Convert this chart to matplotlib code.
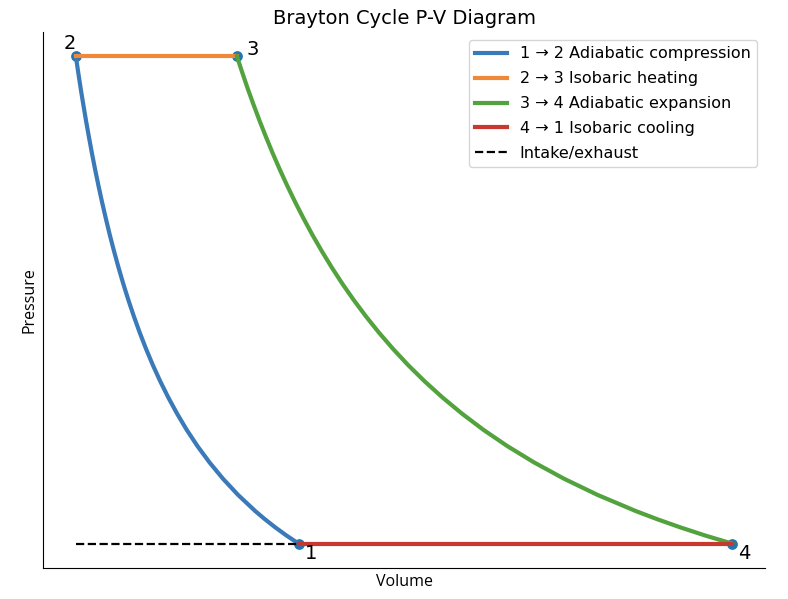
import numpy as np
from matplotlib import pyplot as plt

# state points (volume, pressure), arbitrary units
state_names = ["1", "2", "3", "4"]
state_v = [1.0, 0.3715, 0.826, 2.2234]
state_p = [1.0, 4.0, 4.0, 1.0]

# pressure samples shared by both adiabats
curve_p = [1.0, 1.05, 1.1, 1.15, 1.2, 1.3, 1.4, 1.5, 1.6, 1.7, 1.8, 1.9, 2.0,
           2.1, 2.2, 2.3, 2.4, 2.5, 2.6, 2.7, 2.8, 2.9, 3.0, 3.1, 3.2, 3.3,
           3.4, 3.5, 3.6, 3.7, 3.8, 3.9, 4.0]

# 1 -> 2 adiabatic compression, volumes
comp_v = [1.0, 0.9657, 0.9342, 0.9050, 0.8779, 0.8291, 0.7864, 0.7486, 0.7148,
          0.6845, 0.6572, 0.6323, 0.6095, 0.5886, 0.5694, 0.5516, 0.5351, 0.5197,
          0.5053, 0.4919, 0.4793, 0.4674, 0.4563, 0.4457, 0.4357, 0.4262, 0.4172,
          0.4087, 0.4005, 0.3928, 0.3853, 0.3783, 0.3715]

# 3 -> 4 adiabatic expansion
exp_v = [2.2234, 2.1471, 2.0771, 2.0122, 1.9519, 1.8434, 1.7485, 1.6644, 1.5893,
         1.5219, 1.4612, 1.4059, 1.3552, 1.3087, 1.2660, 1.2264, 1.1897, 1.1555,
         1.1235, 1.0937, 1.0657, 1.0392, 1.0145, 0.9910, 0.9687, 0.9476, 0.9276,
         0.9087, 0.8905, 0.8733, 0.8567, 0.8411, 0.8260]

label_offsets = [(9, -7), (-4, 9), (11, 5), (9, -7)]

fig = plt.figure(figsize=(7.88, 5.99), dpi=100)
ax = fig.add_axes([0.0546, 0.0518, 0.9162, 0.8948])

ax.scatter(state_v, state_p, s=45, color="C0", zorder=1)

ax.plot(comp_v, curve_p, color="#3a7ab8", lw=3, label="1 → 2 Adiabatic compression", zorder=2)
ax.plot([state_v[1], state_v[2]], [state_p[1], state_p[2]], color="#f0883a", lw=3,
        label="2 → 3 Isobaric heating", zorder=2)
ax.plot(exp_v, curve_p, color="#52a23e", lw=3, label="3 → 4 Adiabatic expansion", zorder=2)
ax.plot([state_v[3], state_v[0]], [state_p[3], state_p[0]], color="#c9382f", lw=3,
        label="4 → 1 Isobaric cooling", zorder=2)
ax.plot([state_v[1], state_v[0]], [state_p[0], state_p[0]], "k--", lw=1.6,
        label="Intake/exhaust", zorder=2)

for name, v, p, off in zip(state_names, state_v, state_p, label_offsets):
    ax.annotate(name, (v, p), xytext=off, textcoords="offset points",
                ha="center", va="center", fontsize=14)

ax.set_xticks([])
ax.set_yticks([])
ax.spines["top"].set_visible(False)
ax.spines["right"].set_visible(False)
ax.set_xlabel("Volume", family="Open Sans", fontsize=11.5)
ax.set_ylabel("Pressure", family="Open Sans", fontsize=11.5)
ax.set_title("Brayton Cycle P-V Diagram", fontsize=14)
ax.legend(loc="upper right", fontsize=11.5, labelspacing=0.62)

plt.savefig("out.png", dpi=100)
